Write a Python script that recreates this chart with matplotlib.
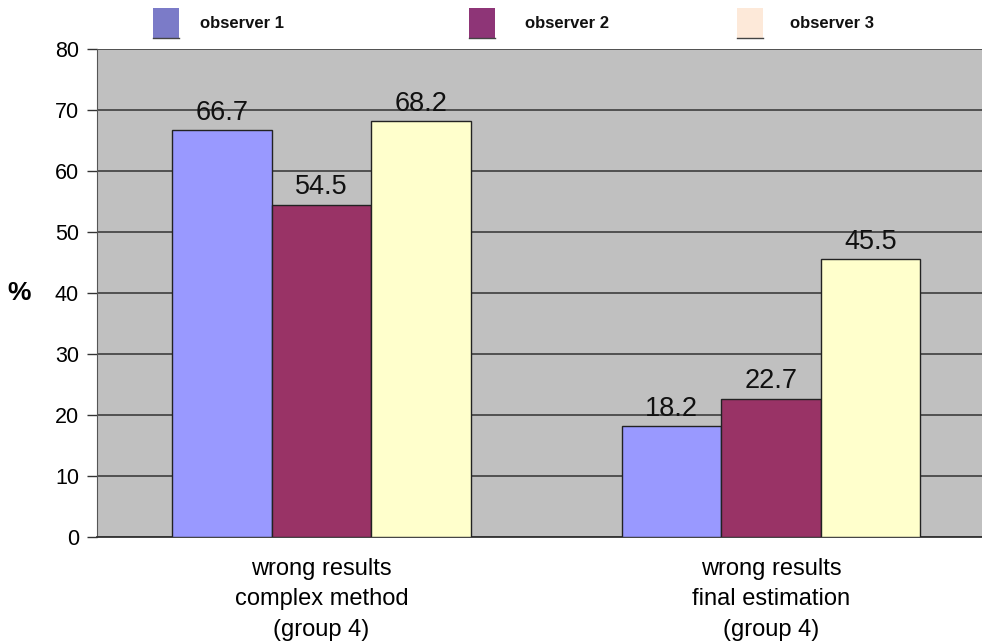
import numpy as np
import matplotlib.pyplot as plt
from matplotlib.patches import Rectangle
from matplotlib.lines import Line2D

plt.rcParams['font.family'] = ['Liberation Sans', 'DejaVu Sans']

groups = ['wrong results\ncomplex method\n(group 4)',
          'wrong results\nfinal estimation\n(group 4)']
observers = ['observer 1', 'observer 2', 'observer 3']
obs1 = [66.7, 18.2]
obs2 = [54.5, 22.7]
obs3 = [68.2, 45.5]

bar_colors = ['#9999ff', '#993366', '#ffffcc']
legend_colors = ['#7b7bc8', '#8e3577', '#fde9d9']

fig = plt.figure(figsize=(9.82, 6.42), dpi=100)
ax = fig.add_axes([97 / 982, 105 / 642, 885 / 982, 488 / 642])
ax.set_facecolor('#c0c0c0')

x = np.arange(len(groups))
w = 0.2216
for i, vals in enumerate([obs1, obs2, obs3]):
    bars = ax.bar(x + (i - 1) * w, vals, w, color=bar_colors[i],
                  edgecolor='#222222', linewidth=1, zorder=3)
    ax.bar_label(bars, labels=[f'{v:.1f}' for v in vals], padding=3,
                 fontsize=19.5, color='#111111')

ax.set_xlim(-0.5, 1.47)
ax.set_ylim(0, 80)
ax.set_yticks(range(0, 81, 10))
ax.yaxis.grid(True, color='#333333', linewidth=1.1, zorder=1)
ax.set_axisbelow(True)
ax.tick_params(axis='y', length=7, width=1, color='#333333',
               labelsize=15.5, pad=6)
ax.set_xticks(x)
ax.set_xticklabels(groups, fontsize=17, linespacing=1.5)
ax.tick_params(axis='x', length=0, pad=15)
for s in ['top', 'right']:
    ax.spines[s].set_visible(False)
ax.spines['left'].set_color('#555555')
ax.spines['bottom'].set_color('#333333')
ax.spines['bottom'].set_linewidth(1.3)
ax.set_ylabel('%', fontsize=19, fontweight='bold', rotation=0,
              labelpad=26, va='center')

# legend along the top, placed by hand
patch_x = [153, 469, 737]
text_x = [200, 525, 790]
for px, tx, c, name in zip(patch_x, text_x, legend_colors, observers):
    fig.add_artist(Rectangle((px / 982, 1 - 38 / 642), 26 / 982, 30 / 642,
                             transform=fig.transFigure, facecolor=c,
                             edgecolor='none'))
    fig.add_artist(Line2D([px / 982, (px + 26) / 982],
                          [1 - 38 / 642, 1 - 38 / 642],
                          transform=fig.transFigure, color='#444444',
                          linewidth=1))
    fig.text(tx / 982, 1 - 24 / 642, name, fontsize=12, fontweight='bold',
             va='center', ha='left', color='#111111')

plt.savefig('out.png')
